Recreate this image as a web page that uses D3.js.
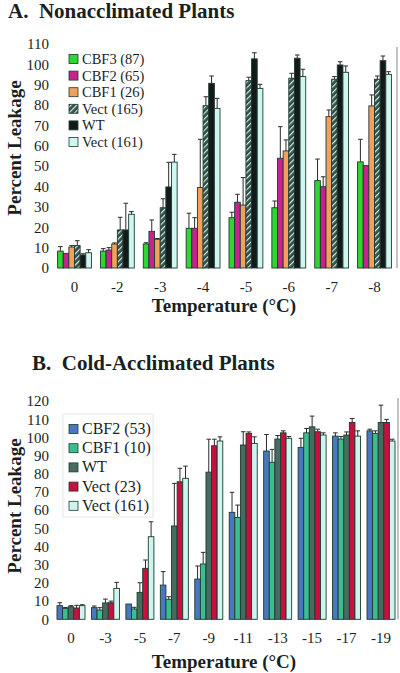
<!DOCTYPE html>
<html><head><meta charset="utf-8">
<script src="https://cdn.jsdelivr.net/npm/d3@7"></script>
<style>body{margin:0;background:#fff}svg{display:block}</style>
</head><body>
<script>
// ---------- Panel A data ----------
const catsA = ["0","-2","-3","-4","-5","-6","-7","-8"];
const seriesA = ["CBF3 (87)","CBF2 (65)","CBF1 (26)","Vect (165)","WT","Vect (161)"];
const cbf3A   = [8.3, 8.3, 11.8, 19.5, 24.7, 29.6, 42.9, 52.1];
const cbf2A   = [7.2, 8.8, 18.0, 19.5, 32.3, 53.9, 39.9, 50.3];
const cbf1A   = [10.3, 11.8, 14.1, 39.5, 30.9, 57.5, 74.3, 79.6];
const vect165A= [11.0, 18.7, 29.6, 79.7, 92.0, 93.2, 92.7, 92.7];
const wtA     = [6.4, 18.7, 39.8, 90.7, 102.7, 103.0, 99.7, 101.8];
const vect161A= [7.5, 26.4, 52.0, 78.4, 88.2, 94.0, 96.1, 95.1];
// tops of error bars
const cbf3AErr   = [10.5, 9.5, 12.4, 26.9, 27.4, 32.9, 53.5, 63.2];
const cbf2AErr   = [null, 10.0, 23.6, 24.7, 36.2, 69.4, 44.8, null];
const cbf1AErr   = [11.0, 12.3, 14.5, 63.2, 44.4, 62.9, 77.6, 85.0];
const vect165AErr= [13.4, 24.9, 34.0, 84.1, 93.7, 95.6, 94.0, 94.3];
const wtAErr     = [7.0, 31.8, 51.9, 94.3, 105.7, 104.6, 101.3, 104.1];
const vect161AErr= [9.0, 27.7, 55.8, 83.3, 90.2, 97.6, 99.2, 96.4];
const ticksA = [0,10,20,30,40,50,60,70,80,90,100,110];

// ---------- Panel B data ----------
const catsB = ["0","-3","-5","-7","-9","-11","-13","-15","-17","-19"];
const seriesB = ["CBF2 (53)","CBF1 (10)","WT","Vect (23)","Vect (161)"];
const cbf2B   = [7.5, 6.4, 8.4, 18.8, 22.1, 58.8, 92.5, 94.5, 100.7, 103.6];
const cbf1B   = [6.0, 5.1, 5.7, 11.0, 30.4, 56.0, 86.3, 102.5, 99.1, 102.2];
const wtB     = [6.9, 9.0, 14.8, 51.3, 80.9, 95.8, 99.1, 105.8, 101.3, 108.2];
const vect23B = [6.2, 9.1, 28.0, 75.6, 95.4, 102.2, 102.5, 103.1, 108.2, 108.2];
const vect161B= [7.5, 17.0, 45.4, 77.5, 98.0, 96.7, 99.5, 101.3, 100.7, 98.0];
const cbf2BErr   = [9.1, 7.3, null, 26.2, 29.3, 69.8, 101.6, 99.5, 102.5, 104.5];
const cbf1BErr   = [6.5, 6.4, 6.6, 12.4, 36.8, 62.8, 93.4, 104.9, 100.5, 103.6];
const wtBErr     = [7.5, 11.1, 20.1, 74.7, 99.0, 103.1, 101.0, 111.7, 103.0, 117.7];
const vect23BErr = [7.7, 10.0, 32.6, 83.0, 99.0, 103.0, 103.6, 104.5, 110.4, 109.9];
const vect161BErr= [8.0, 20.3, 53.6, 84.2, 100.3, 100.3, 100.5, 102.5, 103.6, 99.0];
const ticksB = [0,10,20,30,40,50,60,70,80,90,100,110,120];

const colorsA = ["#2fd62f","#c8228f","#f2a05c","url(#hatch)","#141a1a","#cff6f1"];
const colorsB = ["#4a78c0","#3cbd90","#476b5f","#c8103e","#cdf5ee"];
const FONT = '"Liberation Serif", "Times New Roman", Times, serif';
const INK = "#1a1f1f";

const svg = d3.select("body").append("svg").attr("width",400).attr("height",673)
  .attr("font-family", FONT);
const defs = svg.append("defs");
const pat = defs.append("pattern").attr("id","hatch").attr("patternUnits","userSpaceOnUse")
  .attr("width",4).attr("height",4).attr("patternTransform","rotate(45)");
pat.append("rect").attr("width",4).attr("height",4).attr("fill","#2e4f48");
pat.append("rect").attr("x",0).attr("width",1.2).attr("height",4).attr("fill","#d5ebe4");

function txt(sel, size, bold){
  return sel.attr("font-family",FONT).style("font-family",FONT).style("font-size",size+"px")
    .style("font-weight",bold?"bold":"normal").attr("fill",INK);
}

function panel(cfg){
  const g = svg.append("g");
  const x = d3.scaleBand().domain(cfg.cats).range(cfg.xr).paddingInner(cfg.pi).paddingOuter(cfg.po);
  const xs = d3.scaleBand().domain(cfg.series).range([0,x.bandwidth()]);
  const y = d3.scaleLinear().domain(cfg.ydom).range(cfg.yr);

  // y axis (labels only)
  const ya = g.append("g").attr("transform",`translate(${cfg.tickX},0)`)
    .call(d3.axisLeft(y).tickValues(cfg.ticks).tickSize(0).tickPadding(0));
  ya.attr("font-family",FONT);
  ya.select(".domain").remove();
  txt(ya.selectAll("text"),15,false);

  // x axis labels
  const xa = g.append("g").attr("transform",`translate(0,${cfg.yr[0]})`)
    .call(d3.axisBottom(x).tickSize(0).tickPadding(cfg.xpad));
  xa.attr("font-family",FONT);
  xa.select(".domain").remove();
  txt(xa.selectAll("text"),15,false);

  // right frame line
  g.append("line").attr("x1",cfg.xr[1]).attr("x2",cfg.xr[1]).attr("y1",cfg.frameTop).attr("y2",cfg.yr[0])
    .attr("stroke","#9a9a9a").attr("stroke-width",1.2);

  // bars
  cfg.data.forEach((vals,si)=>{
    const sg = g.append("g");
    sg.selectAll("rect").data(vals).join("rect")
      .attr("x",(d,i)=>x(cfg.cats[i])+xs(cfg.series[si]))
      .attr("y",d=>y(d)).attr("width",xs.bandwidth()).attr("height",d=>y(0)-y(d))
      .attr("fill",cfg.colors[si]).attr("stroke","#1d3a30").attr("stroke-width",0.9);
    const errs = cfg.errs[si];
    const eg = g.append("g").attr("stroke","#2a2a2a").attr("stroke-width",1);
    vals.forEach((v,i)=>{
      const e = errs[i]; if(e==null || e<=v) return;
      const cx = x(cfg.cats[i])+xs(cfg.series[si])+xs.bandwidth()/2;
      eg.append("line").attr("x1",cx).attr("x2",cx).attr("y1",y(v)).attr("y2",y(e));
      eg.append("line").attr("x1",cx-2.3).attr("x2",cx+2.3).attr("y1",y(e)).attr("y2",y(e));
    });
  });

  // legend
  const lg = g.append("g");
  if(cfg.legendBox) lg.append("rect").attr("x",cfg.legendBox[0]).attr("y",cfg.legendBox[1])
     .attr("width",cfg.legendBox[2]).attr("height",cfg.legendBox[3]).attr("fill","#fff").attr("stroke","#e3e6e6");
  cfg.series.forEach((s,i)=>{
    const ly = cfg.legY + i*cfg.legStep;
    lg.append("rect").attr("x",69).attr("y",ly-4.5).attr("width",9).attr("height",9)
      .attr("fill",cfg.colors[i]).attr("stroke","#1d3a30").attr("stroke-width",0.8);
    txt(lg.append("text").attr("x",82).attr("y",ly+5),cfg.legFont,false).text(s);
  });

  // titles
  txt(g.append("text").attr("x",cfg.titleX).attr("y",cfg.titleY),21,true)
    .attr("xml:space","preserve").text(cfg.title);
  txt(g.append("text").attr("x",224).attr("y",cfg.xTitleY).attr("text-anchor","middle"),19,true)
    .text("Temperature (°C)");
  txt(g.append("text").attr("transform",`translate(${cfg.yTitleX},${cfg.yTitleY}) rotate(-90)`)
    .attr("text-anchor","middle"),19,true).text("Percent Leakage");
}

panel({cats:catsA, series:seriesA, colors:colorsA,
  data:[cbf3A,cbf2A,cbf1A,vect165A,wtA,vect161A],
  errs:[cbf3AErr,cbf2AErr,cbf1AErr,vect165AErr,wtAErr,vect161AErr],
  xr:[52,397], pi:0.21, po:0.13, ydom:[0,110], yr:[268,44], ticks:ticksA, tickX:49, xpad:13,
  frameTop:47, legY:59, legStep:16.6, legFont:14.5, legendBox:null,
  title:"A.  Nonacclimated Plants", titleX:8, titleY:18, xTitleY:312, yTitleX:21, yTitleY:148});

panel({cats:catsB, series:seriesB, colors:colorsB,
  data:[cbf2B,cbf1B,wtB,vect23B,vect161B],
  errs:[cbf2BErr,cbf1BErr,wtBErr,vect23BErr,vect161BErr],
  xr:[54,398], pi:0.187, po:0.087, ydom:[0,120], yr:[619.3,401], ticks:ticksB, tickX:49, xpad:13,
  frameTop:398, legY:429, legStep:19.2, legFont:16, legendBox:[63,414,90,103],
  title:"B.  Cold-Acclimated Plants", titleX:32, titleY:370, xTitleY:668, yTitleX:21, yTitleY:506});
</script>
</body></html>
